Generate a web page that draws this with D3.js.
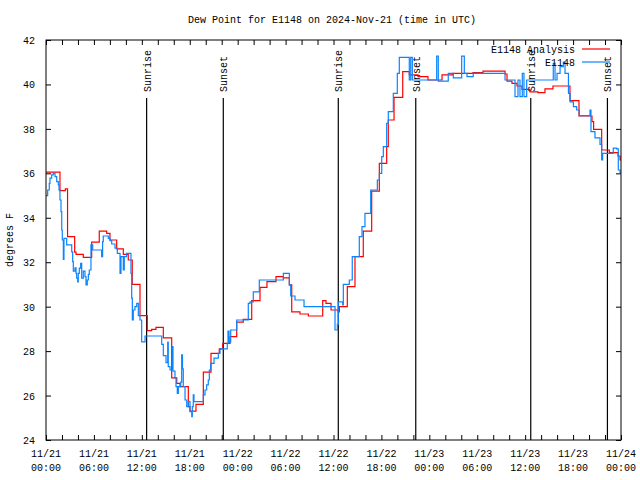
<!DOCTYPE html>
<html><head><meta charset="utf-8">
<script src="https://cdn.jsdelivr.net/npm/d3@7"></script>
<style>
body{margin:0;background:#fff}
text{font-family:"Liberation Mono","DejaVu Sans Mono",monospace;font-size:10px;fill:#000}
</style>
</head><body><svg id="c" width="640" height="480"></svg>
<script>
const title = "Dew Point for E1148 on 2024-Nov-21 (time in UTC)";
const yLabel = "degrees F";
const seriesNames = ["E1148 Analysis", "E1148"];
const xTickHours = [0,6,12,18,24,30,36,42,48,54,60,66,72];
const xTickDates = ["11/21","11/21","11/21","11/21","11/22","11/22","11/22","11/22","11/23","11/23","11/23","11/23","11/24"];
const xTickTimes = ["00:00","06:00","12:00","18:00","00:00","06:00","12:00","18:00","00:00","06:00","12:00","18:00","00:00"];
const yTicks = [24,26,28,30,32,34,36,38,40,42];
const sunHours = [12.6,22.2,36.6,46.3,60.7,70.3];
const sunLabels = ["Sunrise","Sunset","Sunrise","Sunset","Sunrise","Sunset"];

const analysisHours = [0,1.75,2.42,2.7,3.59,3.76,4.67,5.72,6.67,7.6,8.01,8.85,9.68,10.3,10.8,11.77,12.68,13.23,13.77,14.69,15.74,16.37,16.78,17.82,18.03,18.78,19.7,20.66,21.7,22.13,23.04,23.88,24.7,25.76,26.8,27.67,28.8,29.71,30.47,30.77,31.8,32.85,34.65,35.06,35.69,36.6,36.73,37.73,38.69,39.73,40.78,41.74,42.66,42.86,43.58,44.67,45.49,46.58,47.83,49.59,50.96,53.47,54.72,57.48,57.73,58.35,58.98,59.6,60.6,61.6,62.48,63.48,65.61,66.74,68.37,68.57,69.58,70.54,71.63,71.88,72];
const analysisValues = [36.05,35.22,35.3,33.15,32.45,32.35,32.22,32.9,33.4,33.3,33.0,32.6,32.35,32.1,31.0,29.6,28.92,28.98,29.07,28.6,26.8,26.55,26.4,25.5,25.3,25.6,27.05,27.9,28.1,28.35,28.65,29.3,29.43,30.27,30.87,31.13,31.35,31.3,30.98,29.77,29.67,29.58,30.27,30.15,29.85,29.77,30.0,30.9,32.25,33.4,35.2,36.45,37.2,38.4,39.42,40.58,40.43,40.35,40.2,40.43,40.5,40.53,40.6,40.47,40.15,40.05,39.93,39.78,39.67,39.63,39.8,39.93,39.27,38.58,38.33,37.98,37.05,36.93,36.78,36.6,36.6];

const obsHours = [0,0.21,0.41,0.5,0.71,0.91,1.13,1.34,1.54,1.63,1.75,1.88,1.97,2.04,2.17,2.25,2.59,3.22,3.34,3.42,3.63,3.76,3.84,3.97,4.04,4.17,4.34,4.47,4.67,4.88,5.01,5.17,5.3,5.42,5.63,5.85,6.97,7.09,7.17,7.8,8.01,8.23,8.64,8.93,9.27,9.39,9.68,9.8,10.1,10.64,10.73,10.81,10.93,11.14,11.36,11.56,11.77,11.98,12.4,14.49,14.69,15.03,15.24,15.31,15.53,15.81,15.9,16.15,16.28,16.44,16.57,16.87,16.99,17.09,17.19,17.41,17.62,17.82,18.03,18.25,18.32,18.44,18.53,19.7,19.91,20.12,20.32,20.45,20.62,21.04,21.58,21.79,22.7,22.79,22.92,23.13,23.88,25.33,25.55,25.96,26.71,29.72,30.47,30.64,31.18,32.31,36.19,36.48,36.6,37.15,37.23,37.98,38.35,39.23,39.57,39.94,40.66,41.49,41.74,42.04,42.24,42.66,42.86,43.49,43.99,44.24,45.49,45.67,45.87,48.92,49.12,50.37,51.0,52.05,52.38,52.72,53.5,57.48,58.73,59.1,59.35,59.64,59.85,60.19,63.52,63.74,63.99,64.37,64.78,64.99,65.42,65.63,66.04,66.45,66.78,68.12,68.24,68.74,69.37,69.58,69.7,71.03,71.46,71.66,71.88,72];
const obsValues = [35.0,35.25,35.55,35.78,35.93,36.0,35.85,35.63,35.48,35.25,34.8,34.28,33.45,33.0,32.13,33.07,32.78,32.47,32.03,31.6,31.75,31.5,31.28,31.12,31.5,31.73,31.95,31.28,31.6,31.35,30.98,31.2,31.45,31.65,32.78,32.55,32.25,32.93,33.18,33.07,32.97,32.82,32.63,32.4,31.5,32.25,31.65,32.25,32.4,31.5,30.38,29.4,29.85,30.0,30.15,29.6,29.4,28.42,28.68,28.3,27.8,27.48,28.4,27.3,27.15,28.2,27.1,26.8,26.4,26.1,26.4,26.6,27.83,27.2,26.4,25.8,25.5,25.73,25.28,25.05,25.5,26.03,25.73,26.03,26.25,26.48,26.7,27.15,27.45,27.68,27.9,28.1,28.35,28.9,28.4,28.95,29.4,30.15,30.22,30.67,31.2,31.5,30.98,30.48,30.3,30.0,28.95,29.2,30.22,30.08,31.0,31.2,32.25,33.15,33.6,34.2,35.25,35.7,36.0,36.75,37.2,38.25,38.78,39.6,40.5,41.22,40.2,41.22,40.2,41.27,40.15,40.5,40.3,41.27,40.5,40.35,40.5,40.2,39.45,40.2,39.45,40.5,39.45,40.2,40.95,40.2,40.5,40.8,41.0,40.5,39.6,39.22,39.0,38.85,38.6,38.85,37.88,37.6,37.3,36.6,36.9,37.13,37.1,36.15,36.0,36.0];

const svg = d3.select("#c");
const L = 46, R = 621, T = 40, B = 440;
const x = d3.scaleLinear().domain([0,72]).range([L,R]);
const y = d3.scaleLinear().domain([24,42]).range([B,T]);

svg.append("rect").attr("width",640).attr("height",480).attr("fill","#fff");

// title
svg.append("text").attr("x",332).attr("y",23).attr("text-anchor","middle").text(title);

// y label
svg.append("text").attr("transform","translate(13,240) rotate(-90)").attr("text-anchor","middle").text(yLabel);

const minorHours = d3.range(0,73,2);
const gB = svg.append("g").attr("transform",`translate(0,${B})`)
  .call(d3.axisBottom(x).tickValues(minorHours).tickSize(-5).tickSizeOuter(0).tickFormat(""));
const gT = svg.append("g").attr("transform",`translate(0,${T})`)
  .call(d3.axisTop(x).tickValues(minorHours).tickSize(-5).tickSizeOuter(0).tickFormat(""));
const gL = svg.append("g").attr("transform",`translate(${L},0)`)
  .call(d3.axisLeft(y).tickValues(yTicks).tickSize(-5).tickSizeOuter(0).tickPadding(11).tickFormat(d3.format("d")));
const gR = svg.append("g").attr("transform",`translate(${R},0)`)
  .call(d3.axisRight(y).tickValues(yTicks).tickSize(-5).tickSizeOuter(0).tickFormat(""));
[gB,gT,gL,gR].forEach(g=>{
  g.select(".domain").remove();
  g.selectAll("line").attr("stroke","#000");
  g.selectAll("text").attr("font-family",null).attr("font-size",null);
});
gL.selectAll("text").attr("dy","0.35em");

// x tick labels (two lines)
const lab = svg.append("g");
xTickHours.forEach((h,i)=>{
  const t = lab.append("text").attr("x",x(h)).attr("y",457).attr("text-anchor","middle");
  t.append("tspan").attr("x",x(h)).attr("y",457).text(xTickDates[i]);
  t.append("tspan").attr("x",x(h)).attr("y",471).text(xTickTimes[i]);
});

// sunrise/sunset
sunHours.forEach((h,i)=>{
  svg.append("line").attr("x1",x(h)).attr("x2",x(h)).attr("y1",B).attr("y2",98)
    .attr("stroke","#000").attr("stroke-width",1.2);
  svg.append("text").attr("transform",`translate(${x(h)+1.5},92) rotate(-90)`)
    .attr("dominant-baseline","central").text(sunLabels[i]);
});

const line = d3.line().x(d=>x(d[0])).y(d=>y(d[1])).curve(d3.curveStepAfter);
const aData = analysisHours.map((h,i)=>[h,analysisValues[i]]);
const oData = obsHours.map((h,i)=>[h,obsValues[i]]);

svg.append("path").datum(aData).attr("d",line).attr("fill","none").attr("stroke","#ff0000").attr("stroke-width",1.2);
svg.append("path").datum(oData).attr("d",line).attr("fill","none").attr("stroke","#0a84ff").attr("stroke-width",1.2);

// frame
svg.append("rect").attr("x",L).attr("y",T).attr("width",R-L).attr("height",B-T)
  .attr("fill","none").attr("stroke","#000").attr("stroke-width",1);

// legend
const legColors = ["#ff0000","#0a84ff"];
seriesNames.forEach((n,i)=>{
  const yy = 50 + i*13;
  svg.append("text").attr("x",575).attr("y",yy).attr("text-anchor","end").attr("dominant-baseline","central").text(n);
  svg.append("line").attr("x1",582).attr("x2",610).attr("y1",yy-1).attr("y2",yy-1)
    .attr("stroke",legColors[i]).attr("stroke-width",1.2);
});
</script>
</body></html>
